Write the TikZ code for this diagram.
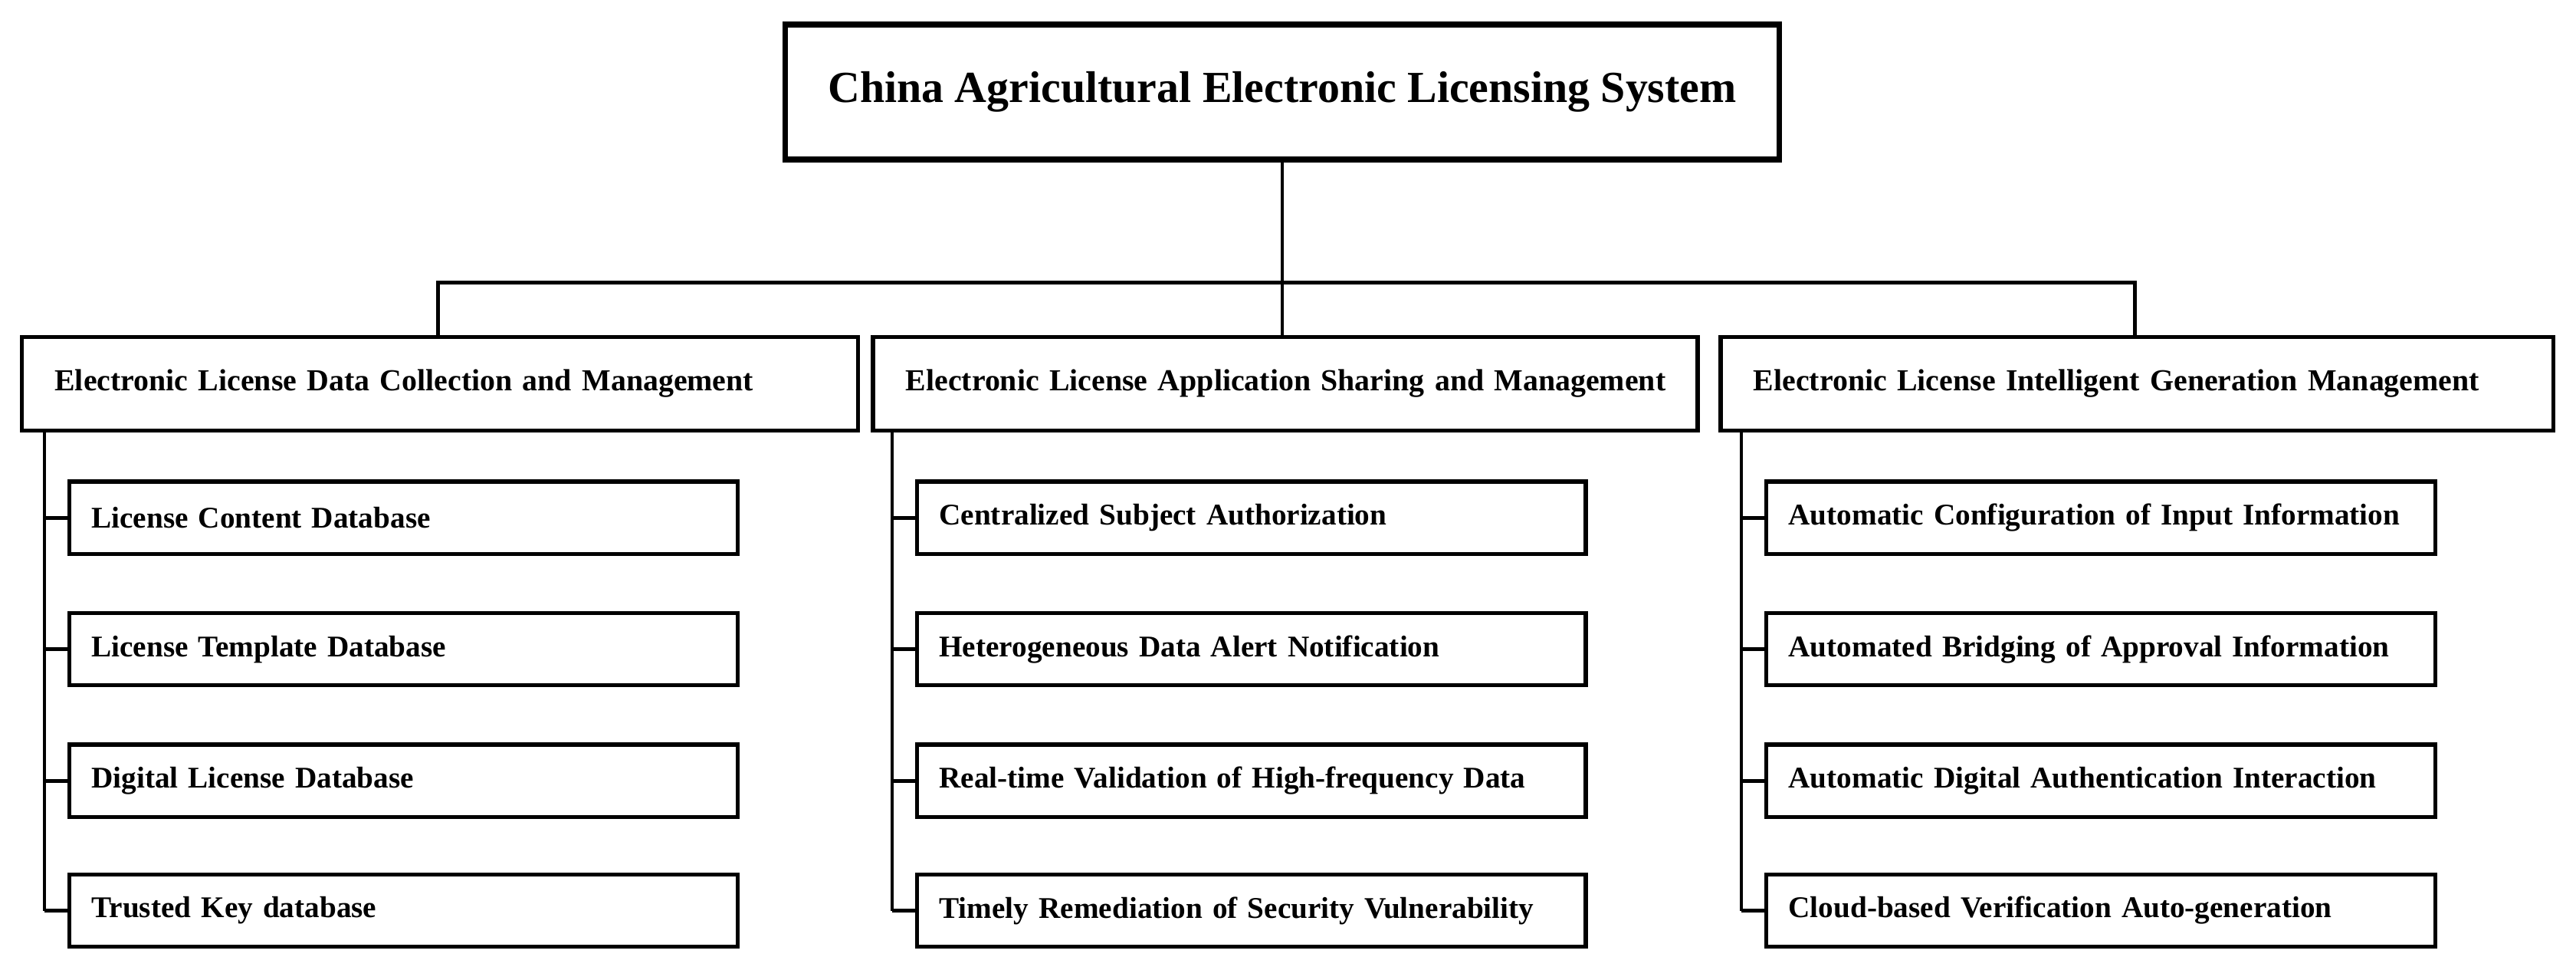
\documentclass[tikz,border=0pt]{standalone}
\usepackage{fontspec}
\setmainfont{Liberation Serif}
\begin{document}
\begin{tikzpicture}[x=1pt,y=-1pt,
  topbox/.style={draw, line width=3.5pt, minimum width=605pt, minimum height=82pt, font=\bfseries\fontsize{27}{32}\selectfont},
  groupbox/.style={draw, line width=2.6pt, minimum height=57pt, anchor=west, align=left, inner xsep=20pt, font=\bfseries\fontsize{18.6}{22}\selectfont},
  itembox/.style={draw, line width=2.4pt, minimum width=407pt, minimum height=44pt, anchor=west, text width=380pt, align=left, font=\bfseries\fontsize{18.3}{22}\selectfont},
  link/.style={line width=2.2pt}]
\useasboundingbox (0,0) rectangle (1568,596);
\node[topbox] (sys) at (780.5,56) {China Agricultural Electronic Licensing System};
% second level
\node[groupbox, text width=469pt] (g1) at (12,233.5) {\mbox{Electronic License Data Collection and Management}};
\node[groupbox, text width=462pt] (g2) at (530,233.5) {\mbox{Electronic License Application Sharing and Management}};
\node[groupbox, text width=467pt] (g3) at (1046,233.5) {\mbox{Electronic License Intelligent Generation Management}};
\coordinate (bus) at (780.5,172);
\coordinate (busL) at (266.5,172);
\coordinate (busR) at (1299.5,172);
\draw[link] (sys.south) -- (bus);
\draw[link, line join=miter] (g1.north -| busL) -- (busL) -- (busR) -- (g3.north -| busR);
\draw[link] (bus) -- (g2.north -| bus);
% third level
\foreach \g/\x/\a/\b/\c/\d in {
  g1/27/License Content Database/License Template Database/Digital License Database/Trusted Key database,
  g2/543/Centralized Subject Authorization/Heterogeneous Data Alert Notification/Real-time Validation of High-frequency Data/Timely Remediation of Security Vulnerability,
  g3/1060/Automatic Configuration of Input Information/Automated Bridging of Approval Information/Automatic Digital Authentication Interaction/Cloud-based Verification Auto-generation} {
  \coordinate (\g top) at (\x,262);
  \coordinate (\g end) at (\x,554);
  \draw[link] (\g top) -- (\g end);
  \node[itembox] (\g i1) at (\x+14,315) {\mbox{\a}};
  \node[itembox] (\g i2) at (\x+14,395) {\mbox{\b}};
  \node[itembox] (\g i3) at (\x+14,475) {\mbox{\c}};
  \node[itembox] (\g i4) at (\x+14,554) {\mbox{\d}};
  \foreach \i/\y in {1/315,2/395,3/475,4/554}
    \draw[link] (\x,\y) -- (\g i\i.west);
}
\end{tikzpicture}
\end{document}
